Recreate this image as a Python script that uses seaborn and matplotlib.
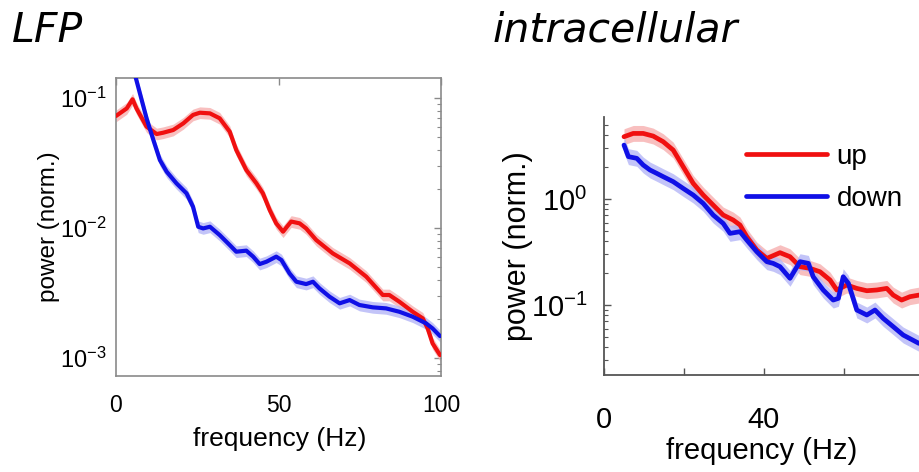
import numpy as np
import pandas as pd
import matplotlib
matplotlib.use("Agg")
import matplotlib.pyplot as plt
import matplotlib.ticker as mticker
import seaborn as sns

# ---- LFP power spectra (frequency in Hz, power as log10 of normalised power)
lfp_up_freq = [0, 3.3, 5.1, 6.3, 9.4, 12.5, 14.5, 17.6, 20.7, 23.7, 25.8, 28.9, 31.9,
               35, 37, 40.1, 43.2, 45.2, 47.3, 49.3, 51.4, 52.6, 53.9, 56.5, 58.5,
               61.6, 66.7, 71.9, 77, 82.1, 84.1, 87.2, 91.3, 94.4, 95.9, 97.4, 99.7]
lfp_up_log = [-1.138, -1.08, -1.01, -1.08, -1.22, -1.277, -1.267, -1.246, -1.195,
              -1.13, -1.113, -1.118, -1.156, -1.259, -1.40, -1.554, -1.656, -1.733,
              -1.862, -1.964, -2.028, -1.99, -1.95, -1.964, -2.003, -2.092, -2.195,
              -2.272, -2.374, -2.515, -2.515, -2.567, -2.644, -2.695, -2.772, -2.887,
              -2.977]
lfp_down_freq = [4, 6.1, 9.4, 11.5, 13.5, 15.6, 18.6, 21.7, 23.7, 25.3, 26.8, 28.9,
                 31.9, 35, 37, 40.1, 42.2, 44.2, 46.3, 49.3, 50.9, 53.4, 55.5, 58.5,
                 60.6, 62.6, 65.7, 68.8, 71.9, 74.9, 79, 83.1, 87.2, 91.3, 95.4, 97.4,
                 99.7]
lfp_down_log = [-0.65, -0.846, -1.156, -1.323, -1.477, -1.567, -1.656, -1.733, -1.836,
                -1.99, -2.003, -1.99, -2.054, -2.131, -2.182, -2.174, -2.22, -2.277,
                -2.259, -2.22, -2.246, -2.349, -2.413, -2.431, -2.413, -2.464, -2.528,
                -2.579, -2.554, -2.592, -2.61, -2.618, -2.644, -2.682, -2.733, -2.772,
                -2.831]

# ---- intracellular power spectra
intra_up_freq = [5, 7.3, 9.8, 12.3, 14.8, 17.3, 19.8, 22.3, 24.8, 27.3, 29.8, 32.3, 34,
                 35.7, 38.2, 40.7, 44, 46.5, 49, 51.5, 54, 56.5, 58.2, 60.7, 63.2, 65.7,
                 68.2, 70.7, 72.3, 74.4, 76.5, 78.75]
intra_up_log = [0.588, 0.619, 0.619, 0.594, 0.541, 0.462, 0.305, 0.148, 0.038, -0.057,
                -0.151, -0.198, -0.245, -0.355, -0.481, -0.56, -0.506, -0.544, -0.638,
                -0.654, -0.686, -0.764, -0.858, -0.811, -0.843, -0.865, -0.858, -0.843,
                -0.906, -0.953, -0.921, -0.906]
intra_down_freq = [5, 6.1, 8.2, 9.8, 11.5, 13.2, 14.8, 17.3, 19.8, 22.3, 24.8, 27.3,
                   29.8, 31.5, 34, 35.7, 38.2, 40.7, 42.3, 44, 46.5, 49, 51.1, 52.3, 54.8,
                   57.3, 58.6, 59.8, 61.1, 63.2, 65.7, 67.75, 69.8, 72.3, 74.8, 78.75]
intra_down_log = [0.509, 0.40, 0.384, 0.321, 0.274, 0.242, 0.211, 0.164, 0.10, 0.038,
                  -0.041, -0.151, -0.23, -0.324, -0.308, -0.387, -0.497, -0.591, -0.607,
                  -0.638, -0.748, -0.591, -0.607, -0.733, -0.858, -0.953, -0.937, -0.733,
                  -0.796, -1.047, -1.094, -1.047, -1.126, -1.204, -1.283, -1.362]

# half-width of the shaded error band, in decades
lfp_band = 0.045
intra_band = 0.075

series_names = ["up", "down"]
line_colors = {"up": "#f01010", "down": "#1010e6"}
band_colors = {"up": "#f7b0b0", "down": "#b4b6f7"}

sns.set_theme(style="white")
plt.rcParams["font.family"] = ["Liberation Sans", "DejaVu Sans"]
plt.rcParams["mathtext.fontset"] = "custom"
plt.rcParams["mathtext.rm"] = "Liberation Sans"
plt.rcParams["mathtext.default"] = "regular"
plt.rcParams["text.color"] = "black"
plt.rcParams["axes.labelcolor"] = "black"


def make_frame(freqs, logs, name):
    return pd.DataFrame({"frequency": freqs,
                         "power": np.power(10.0, np.asarray(logs)),
                         "state": name})


fig = plt.figure(figsize=(9.19, 4.72), dpi=100)
fig.patch.set_facecolor("white")

# ---------------- LFP panel ----------------
ax1 = fig.add_axes([116 / 919, 1 - 376 / 472, 325 / 919, 298 / 472])
lfp = pd.concat([make_frame(lfp_up_freq, lfp_up_log, "up"),
                 make_frame(lfp_down_freq, lfp_down_log, "down")])
for name in series_names:
    d = lfp[lfp.state == name]
    ax1.fill_between(d.frequency, d.power / 10 ** lfp_band, d.power * 10 ** lfp_band,
                     color=band_colors[name], alpha=0.8, lw=0, zorder=1)
sns.lineplot(data=lfp, x="frequency", y="power", hue="state", palette=line_colors,
             hue_order=series_names, sort=False, estimator=None, lw=3.0, ax=ax1,
             legend=False, zorder=3)
ax1.set_yscale("log")
ax1.set_xlim(0, 100)
ax1.set_ylim(10 ** -3.138, 10 ** -0.846)
ax1.set_xticks([0, 50, 100])
ax1.set_xticklabels(["0", "50", "100"])
ax1.yaxis.set_major_locator(mticker.FixedLocator([1e-3, 1e-2, 1e-1]))
ax1.yaxis.set_major_formatter(mticker.LogFormatterMathtext())
ax1.yaxis.set_minor_locator(mticker.LogLocator(base=10, subs=np.arange(2, 10)))
ax1.yaxis.set_minor_formatter(mticker.NullFormatter())
for s in ax1.spines.values():
    s.set_color("#8a8a8a")
    s.set_linewidth(1.2)
ax1.tick_params(axis="both", which="both", direction="in", top=True, right=True,
                colors="#8a8a8a", labelcolor="black")
ax1.tick_params(axis="both", which="major", length=5, width=1)
ax1.tick_params(axis="y", which="minor", length=3, width=0.8)
ax1.tick_params(axis="x", labelsize=16.5, pad=13)
ax1.tick_params(axis="y", labelsize=17, pad=7)
ax1.set_xlabel("frequency (Hz)", fontsize=19)
ax1.set_ylabel("power (norm.)", fontsize=17.5)
ax1.xaxis.set_label_coords(0.505, -0.17)
ax1.yaxis.set_label_coords(-0.172, 0.5)
ax1.grid(False)

# ---------------- intracellular panel ----------------
ax2 = fig.add_axes([604 / 919, 1 - 375 / 472, 320 / 919, 258 / 472])
intra = pd.concat([make_frame(intra_up_freq, intra_up_log, "up"),
                   make_frame(intra_down_freq, intra_down_log, "down")])
for name in series_names:
    d = intra[intra.state == name]
    ax2.fill_between(d.frequency, d.power / 10 ** intra_band, d.power * 10 ** intra_band,
                     color=band_colors[name], alpha=0.8, lw=0, zorder=1)
sns.lineplot(data=intra, x="frequency", y="power", hue="state", palette=line_colors,
             hue_order=series_names, sort=False, estimator=None, lw=3.4, ax=ax2,
             zorder=3)
ax2.set_yscale("log")
ax2.set_xlim(0, 80)
ax2.set_ylim(10 ** -1.66, 10 ** 0.774)
ax2.set_xticks([0, 20, 40, 60, 80])
ax2.set_xticklabels(["0", "", "40", "", ""])
ax2.yaxis.set_major_locator(mticker.FixedLocator([1e-1, 1e0]))
ax2.yaxis.set_major_formatter(mticker.LogFormatterMathtext())
ax2.yaxis.set_minor_locator(mticker.LogLocator(base=10, subs=np.arange(2, 10)))
ax2.yaxis.set_minor_formatter(mticker.NullFormatter())
ax2.spines["top"].set_visible(False)
ax2.spines["right"].set_visible(False)
for side in ("left", "bottom"):
    ax2.spines[side].set_color("#555555")
    ax2.spines[side].set_linewidth(1.3)
ax2.tick_params(axis="both", which="both", direction="in", colors="#555555",
                labelcolor="black", left=True, bottom=True)
ax2.tick_params(axis="both", which="major", length=5, width=1)
ax2.tick_params(axis="y", which="minor", length=3, width=0.8)
ax2.tick_params(axis="x", labelsize=21, pad=22)
ax2.tick_params(axis="y", labelsize=21, pad=12)
ax2.set_xlabel("frequency (Hz)", fontsize=21)
ax2.set_ylabel("power (norm.)", fontsize=22)
ax2.xaxis.set_label_coords(0.494, -0.24)
ax2.yaxis.set_label_coords(-0.222, 0.5)
ax2.grid(False)
leg = ax2.legend(loc="upper left", bbox_to_anchor=(0.41, 0.94), frameon=False,
                 fontsize=20, handlelength=2.9, handletextpad=0.35, labelspacing=0.58,
                 borderaxespad=0)
for line in leg.get_lines():
    line.set_linewidth(3.4)

# ---------------- panel titles ----------------
fig.text(12 / 919, 1 - 11 / 472, "LFP", fontsize=29.5, style="italic",
         family="DejaVu Sans", va="top", ha="left")
fig.text(493 / 919, 1 - 11 / 472, "intracellular", fontsize=29.5, style="italic",
         family="DejaVu Sans", va="top", ha="left")

fig.savefig("out.png", dpi=100, facecolor="white")
